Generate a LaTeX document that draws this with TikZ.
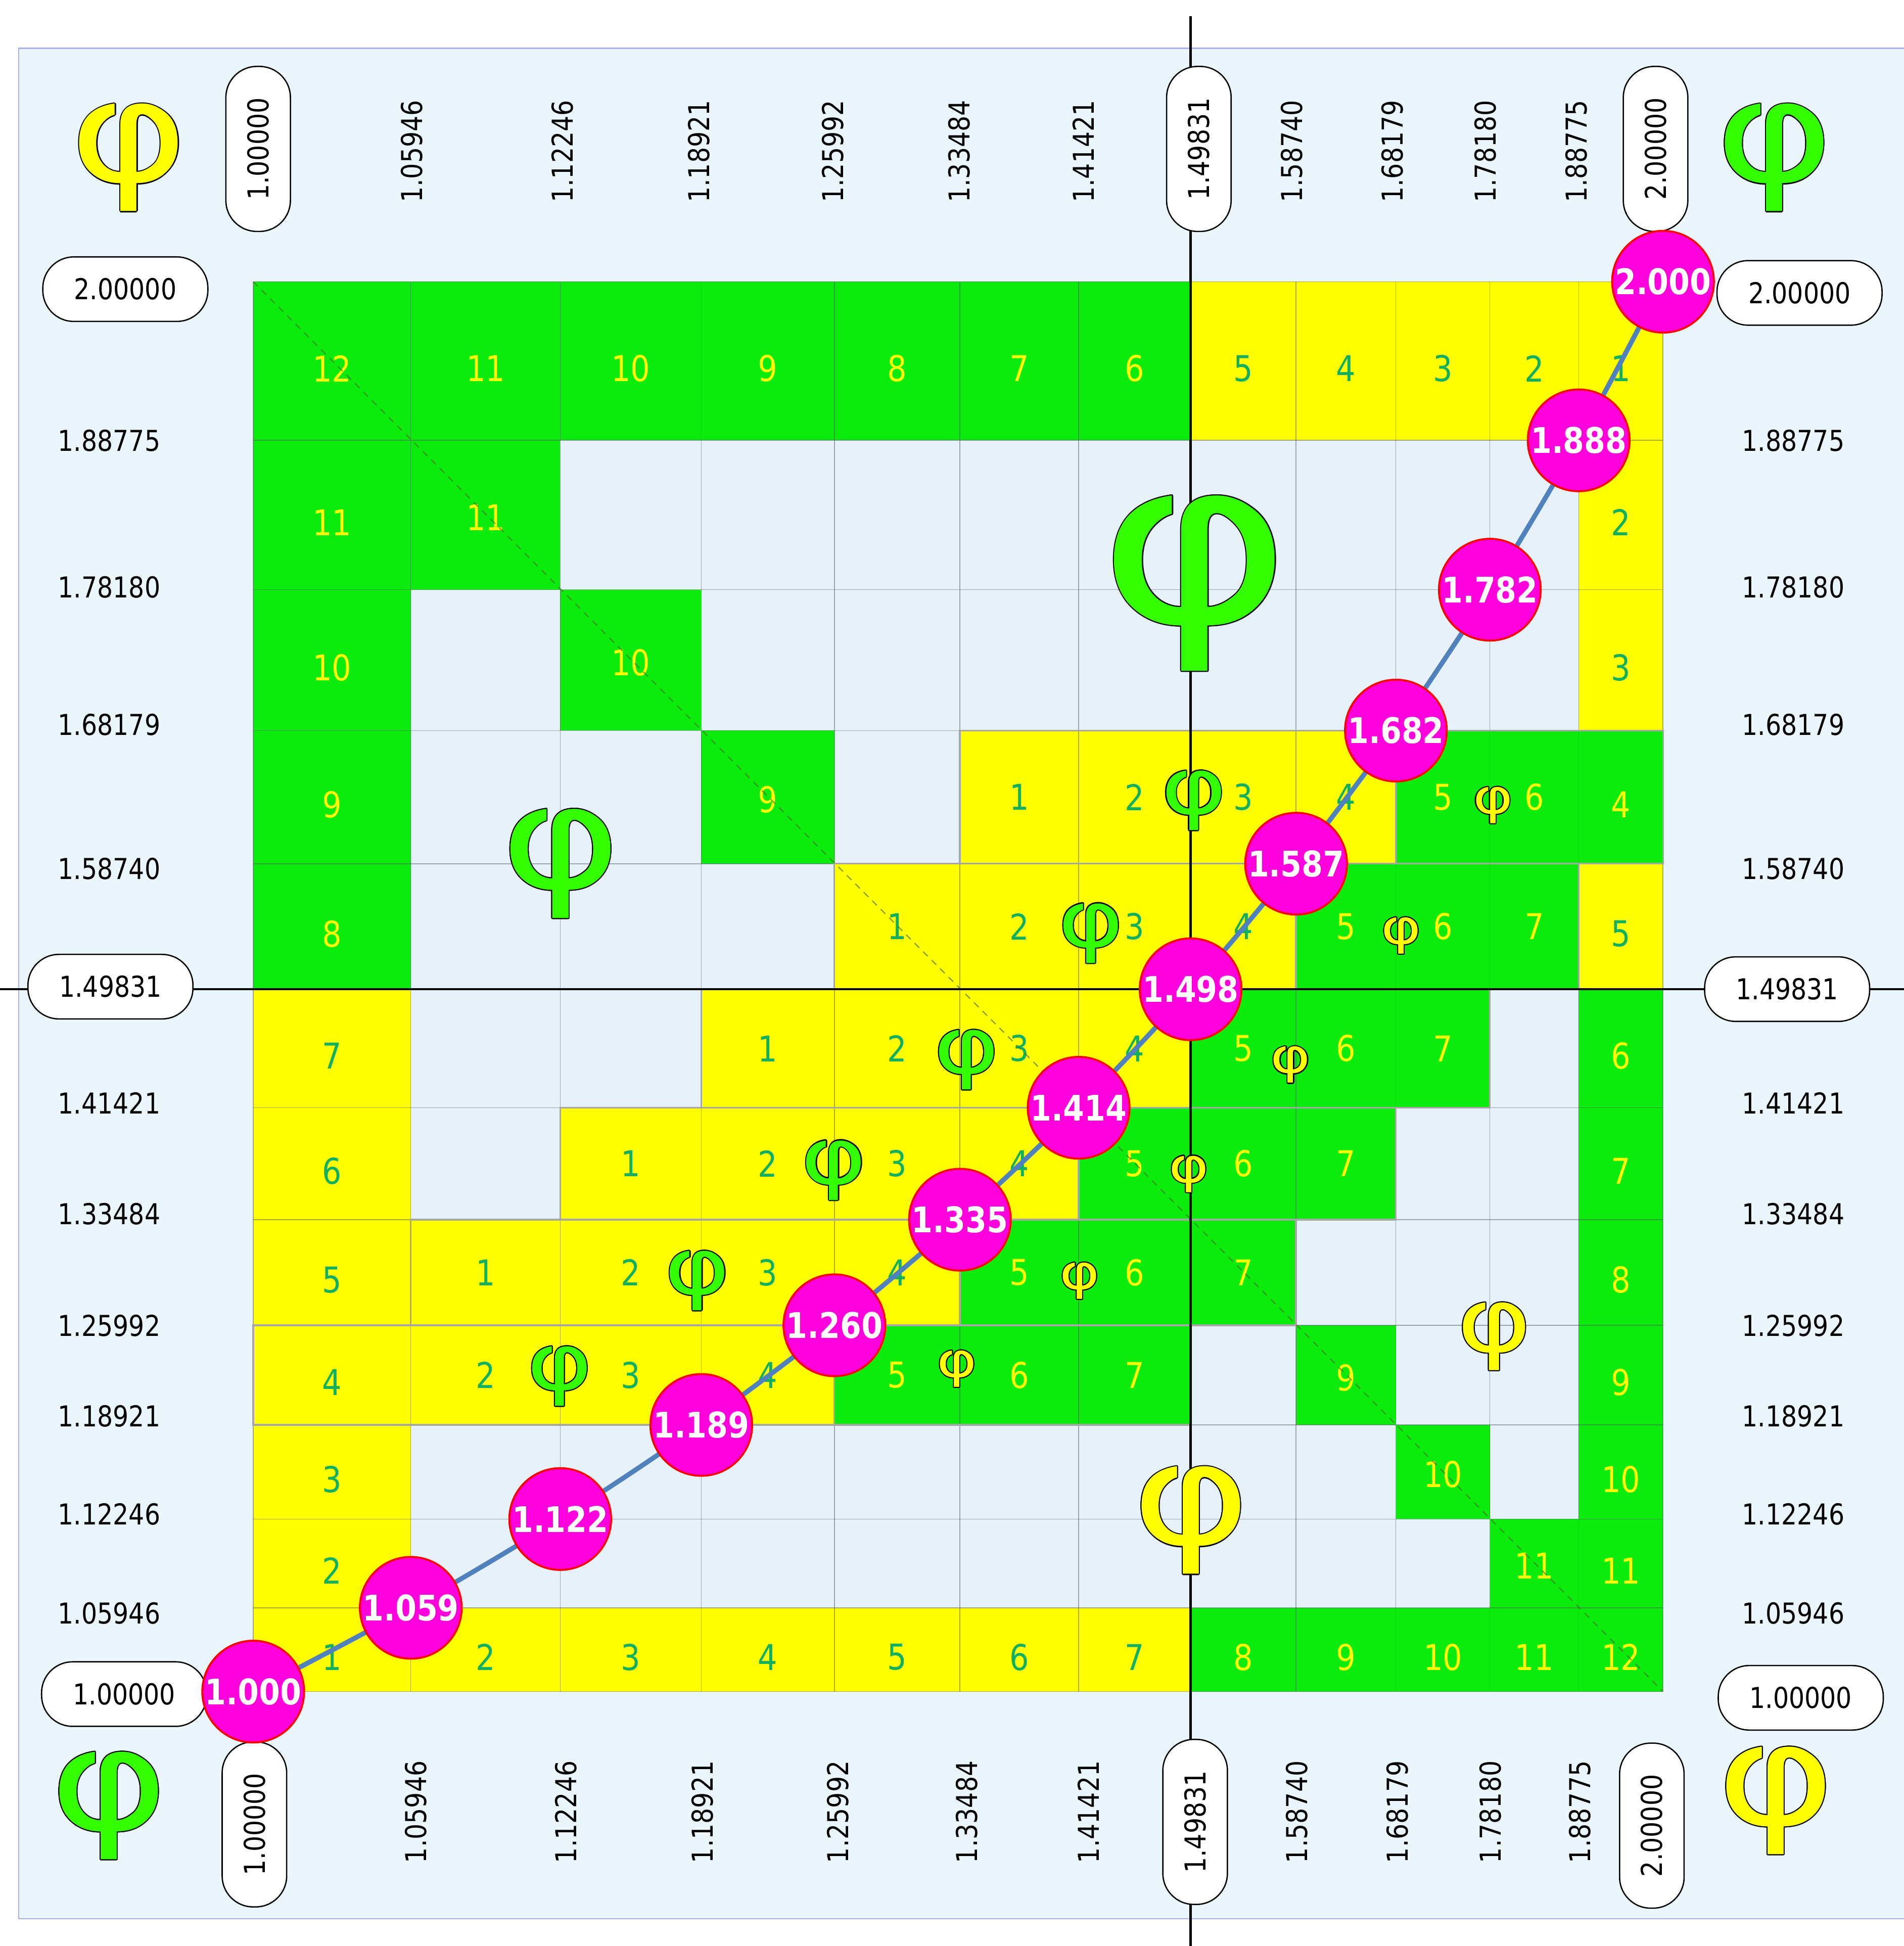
\documentclass[tikz,border=0pt]{standalone}
\usepackage{fontspec}
\setmainfont{DejaVu Sans}[FakeStretch=0.86]
\newfontfamily\phifont{DejaVu Sans}[FakeStretch=1.27]
\usepackage{tikz}
\usetikzlibrary{calc,positioning}

\definecolor{paneblue}{RGB}{235,245,252}
\definecolor{paneedge}{RGB}{168,176,240}
\definecolor{cellblue}{RGB}{231,241,250}
\definecolor{cellgreen}{RGB}{12,236,12}
\definecolor{cellyellow}{RGB}{255,255,0}
\definecolor{numgreen}{RGB}{16,176,96}
\definecolor{phigreen}{RGB}{51,255,0}
\definecolor{ratiopink}{RGB}{255,0,221}
\definecolor{curveblue}{RGB}{79,129,189}
\definecolor{gridgrey}{RGB}{80,90,100}

\newcommand\cellfont{\fontsize{16.3}{18}\selectfont}

\tikzset{
    yel/.style={fill=cellyellow},
    grn/.style={fill=cellgreen},
    yel text/.style={text=numgreen},
    grn text/.style={text=cellyellow},
    grid line/.style={draw=gridgrey, opacity=0.5, line width=0.35pt},
    strip frame/.style={draw=gray!70, line width=0.8pt},
    mirror line/.style={draw={rgb,255:red,70;green,110;blue,40}, opacity=0.7, line width=0.5pt, dash pattern=on 3pt off 2.5pt},
    axis line/.style={draw=black, line width=1pt},
    ratio curve/.style={draw=curveblue, line width=2.2pt},
    tick label/.style={font=\fontsize{13.2}{15}\selectfont, inner sep=1pt},
    value box/.style={tick label, draw, fill=white, line width=0.6pt, rounded corners=0.5cm, minimum width=2.66cm, minimum height=1.04cm},
    ratio dot/.style={circle, draw=red, fill=ratiopink, line width=0.9pt, minimum size=1.64cm, inner sep=0pt, text=white, font=\bfseries\fontsize{16.2}{18}\selectfont},
    phi glyph/.style={inner sep=0pt},
}

% one coloured square of the grid: [label drop], column, row, colour, label
\newcommand\tile[5][0]{%
  \pgfmathtruncatemacro\tilecol{#2-1}%
  \pgfmathtruncatemacro\tilerow{#3-1}%
  \path[#4] (p\tilecol|-p\tilerow) rectangle (p#2|-p#3);
  \node[#4 text, font=\cellfont, yshift=-#1*0.02cm] (n#2-#3) at ($(p\tilecol|-p\tilerow)!0.5!(p#2|-p#3)$) {#5};}

% outlined phi letter: name, position, size, fill colour
\newcommand\phimark[4]{%
  \foreach \ang in {0,30,...,330}
    \node[phi glyph, font=\phifont\fontsize{#3}{#3}\selectfont, text=black, shift={(\ang:0.5pt)}] at (#2) {φ};
  \node[phi glyph, font=\phifont\fontsize{#3}{#3}\selectfont, text=#4] (#1) at (#2) {φ};}

\begin{document}
\begin{tikzpicture}[x=0.02cm, y=-0.02cm]
\useasboundingbox (0,0) rectangle (1534,1568);

% Grid corners
\foreach \k in {0,...,12}
  \coordinate (p\k) at ({204+1136*(2-2*2^(-\k/12))},{227+1136*(2-2^(\k/12))});

% Panel
\filldraw[fill=paneblue, draw=paneedge, line width=0.6pt] (15,39) rectangle (1545,1546);
\fill[cellblue] (p0|-p0) rectangle (p12|-p12);

% Shifted scales, one per row (their end squares belong to the outer frame)
\foreach \r in {4,...,9} {
  \foreach \n in {1,...,7} {
    \pgfmathtruncatemacro\stepcol{\r-4+\n}
    \ifnum\stepcol>1 \ifnum\stepcol<12
      \ifnum\n<5 \tile{\stepcol}{\r}{yel}{\n}\else\tile{\stepcol}{\r}{grn}{\n}\fi
    \fi\fi
  }
}

% Staircase along the mirror line
\foreach \i/\j in {2/11,3/10,4/9} \tile[2]{\i}{\j}{grn}{\j};
\foreach \i/\j in {9/4,10/3,11/2} \tile[2]{\i}{\j}{grn}{\i};

% Outer frame of steps
\foreach \i [evaluate=\i as \lab using int(13-\i)] in {1,...,7} \tile[6]{\i}{12}{grn}{\lab};
\foreach \i [evaluate=\i as \lab using int(13-\i)] in {8,...,12} \tile[6]{\i}{12}{yel}{\lab};
\foreach \j in {8,...,11} \tile[6]{1}{\j}{grn}{\j};
\foreach \j in {1,...,7} \tile[6]{1}{\j}{yel}{\j};
\foreach \i in {2,...,7} \tile[6]{\i}{1}{yel}{\i};
\foreach \i in {8,...,12} \tile[6]{\i}{1}{grn}{\i};
\foreach \j/\s [evaluate=\j as \lab using int(13-\j)] in {11/yel,10/yel,9/grn,8/yel,7/grn,6/grn,5/grn,4/grn,3/grn,2/grn}
  \tile[6]{12}{\j}{\s}{\lab};

% Grid lines
\foreach \k in {0,...,12} {
  \draw[grid line] (p\k|-p0) -- (p\k|-p12);
  \draw[grid line] (p0|-p\k) -- (p12|-p\k);
}

% Frames round the scales
\foreach \r [evaluate=\r as \fa using int(\r-4), evaluate=\r as \fb using int(\r-1), evaluate=\r as \fe using int(\r+3)] in {4,...,9} {
  \draw[strip frame] (p\fa|-p\fb) rectangle (p\r|-p\r);
  \draw[strip frame] (p\r|-p\fb) rectangle (p\fe|-p\r);
}

\draw[mirror line] (p0|-p12) -- (p12|-p0);

% Axes through the fifth
\draw[axis line] (p7|-0,13) -- (p7|-0,1575);
\draw[axis line] (-5,0|-p7) -- (1545,0|-p7);

% Phi letters
\phimark{phiTL}{104,127}{65}{cellyellow}
\phimark{phiTR}{1430,127}{65}{phigreen}
\phimark{phiBL}{88,1455}{65}{phigreen}
\phimark{phiBR}{1431,1451}{65}{cellyellow}
\phimark{phiUp}{963,470}{106}{phigreen}
\phimark{phiLeft}{452,696}{66}{phigreen}
\phimark{phiDown}{960,1225}{65}{cellyellow}
\phimark{phiRight}{1204,1077}{41}{cellyellow}
\foreach \r/\x/\y in {4/451/1109,5/562/1032,6/672/943,7/779/854,8/879/752,9/962/645}
  \phimark{phiA\r}{\x,\y}{36}{phigreen};
\foreach \r/\x/\y in {4/771/1103,5/870/1032,6/958/946,7/1040/858,8/1129/754,9/1203/649}
  \phimark{phiB\r}{\x,\y}{22}{cellyellow};

% Tick labels
\foreach \k/\x/\v in {1/332/1.05946,2/453/1.12246,3/563/1.18921,4/671/1.25992,5/773/1.33484,6/873/1.41421,8/1041/1.58740,9/1122/1.68179,10/1197/1.78180,11/1270/1.88775}
  \node[tick label, rotate=90] (top\k) at (\x,122) {\v};
\foreach \k/\x/\v in {1/335/1.05946,2/456/1.12246,3/566/1.18921,4/675/1.25992,5/779/1.33484,6/877/1.41421,8/1045/1.58740,9/1126/1.68179,10/1201/1.78180,11/1273/1.88775}
  \node[tick label, rotate=90] (bot\k) at (\x,1460) {\v};
\foreach \k/\y/\v in {11/355/1.88775,10/473/1.78180,9/584/1.68179,8/700/1.58740,6/889/1.41421,5/978/1.33484,4/1068/1.25992,3/1141/1.18921,2/1220/1.12246,1/1300/1.05946} {
  \node[tick label] (left\k) at (88,\y) {\v};
  \node[tick label] (right\k) at (1445,\y) {\v};
}

% Boxed end values
\node[value box, rotate=90] (top0) at (208,120) {1.00000};
\node[value box, rotate=90] (top7) at (966,120) {1.49831};
\node[value box, rotate=90] (top12) at (1334,120) {2.00000};
\node[value box, rotate=90] (bot0) at (205,1470) {1.00000};
\node[value box, rotate=90] (bot7) at (963,1468) {1.49831};
\node[value box, rotate=90] (bot12) at (1331,1471) {2.00000};
\node[value box] (left12) at (101,233) {2.00000};
\node[value box] (left7) at (89,795) {1.49831};
\node[value box] (left0) at (100,1365) {1.00000};
\node[value box] (right12) at (1450,236) {2.00000};
\node[value box] (right7) at (1440,797) {1.49831};
\node[value box] (right0) at (1451,1368) {1.00000};

% Ratio curve
\draw[ratio curve] plot[smooth] coordinates {(p0) (p1) (p2) (p3) (p4) (p5) (p6) (p7) (p8) (p9) (p10) (p11) (p12)};
\foreach \k/\v in {0/1.000,1/1.059,2/1.122,3/1.189,4/1.260,5/1.335,6/1.414,7/1.498,8/1.587,9/1.682,10/1.782,11/1.888,12/2.000}
  \node[ratio dot] (r\k) at (p\k) {\v};

\end{tikzpicture}
\end{document}
